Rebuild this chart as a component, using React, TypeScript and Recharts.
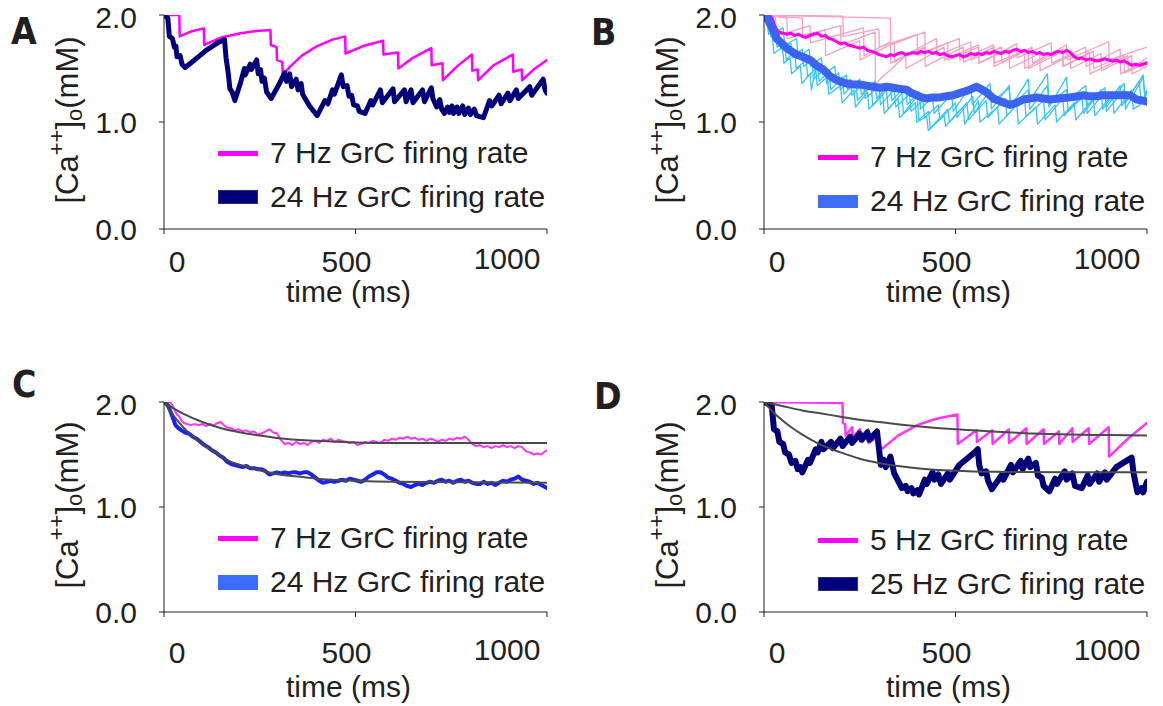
import React from 'react';
import { LineChart, Line, XAxis, YAxis, Legend } from 'recharts';

const FONT = '"Liberation Sans", Arial, Helvetica, sans-serif';
const LETTER_FONT = '"Liberation Sans Narrow", "DejaVu Sans Condensed", "Liberation Sans", sans-serif';
const INK = '#231f20';

const X_TICKS = [0, 500, 1000];
const Y_TICKS = [0, 1, 2];

// panel A: single runs
const A_7HZ = [
  [0, 2.0], [40, 2.0], [41, 1.80], [70, 1.845], [104, 1.875], [105, 1.72], [150, 1.79], [200, 1.83], [240, 1.85],
  [278, 1.86], [279, 1.72], [294, 1.70], [295, 1.58], [309, 1.56], [310, 1.44], [330, 1.52], [360, 1.62], [400, 1.71],
  [440, 1.77], [473, 1.80], [474, 1.64], [520, 1.71], [572, 1.76], [573, 1.63], [611, 1.65], [612, 1.50], [650, 1.60],
  [698, 1.69], [699, 1.53], [727, 1.55], [728, 1.39], [765, 1.52], [804, 1.63], [805, 1.48], [819, 1.49], [820, 1.39],
  [860, 1.53], [911, 1.63], [912, 1.47], [934, 1.49], [935, 1.39], [965, 1.49], [1000, 1.58],
];
const A_24HZ = [
  [0, 2.0], [10, 1.97], [14, 1.80], [22, 1.78], [27, 1.70], [31, 1.71], [34, 1.61], [42, 1.62], [47, 1.54], [55, 1.51],
  [80, 1.58], [110, 1.67], [140, 1.74], [158, 1.77], [162, 1.60], [168, 1.45], [172, 1.31], [178, 1.28], [185, 1.20],
  [200, 1.37], [210, 1.50], [212, 1.44], [225, 1.54], [228, 1.49], [242, 1.58], [246, 1.45], [252, 1.49], [256, 1.38],
  [262, 1.41], [268, 1.28], [280, 1.22], [300, 1.35], [315, 1.46], [320, 1.38], [328, 1.45], [333, 1.33], [345, 1.40],
  [350, 1.30], [358, 1.36], [362, 1.26], [380, 1.15], [400, 1.06], [420, 1.20], [428, 1.17], [440, 1.30], [445, 1.26],
  [463, 1.44], [468, 1.33], [478, 1.34], [483, 1.24], [490, 1.25], [495, 1.16], [505, 1.15], [510, 1.10], [525, 1.08],
  [540, 1.20], [545, 1.16], [565, 1.30], [570, 1.18], [598, 1.31], [602, 1.19], [628, 1.30], [632, 1.19], [645, 1.30],
  [650, 1.18], [675, 1.30], [680, 1.19], [698, 1.32], [702, 1.22], [712, 1.14], [720, 1.21], [725, 1.12], [732, 1.08],
  [740, 1.14], [745, 1.09], [752, 1.15], [756, 1.08], [765, 1.14], [770, 1.08], [780, 1.15], [785, 1.07], [795, 1.13],
  [800, 1.07], [810, 1.12], [816, 1.06], [834, 1.04], [850, 1.20], [856, 1.15], [875, 1.25], [880, 1.17], [898, 1.27],
  [903, 1.20], [920, 1.30], [925, 1.22], [955, 1.33], [960, 1.25], [990, 1.40], [995, 1.30], [1000, 1.27],
];

// panel B: individual runs and averages
const B_7HZ_RUN1 = [
  [0, 2.0], [206, 1.99], [207, 1.80], [300, 1.87], [301, 1.70], [400, 1.82], [401, 1.62], [480, 1.74], [481, 1.58],
  [560, 1.70], [561, 1.55], [640, 1.68], [641, 1.50], [720, 1.64], [721, 1.48], [800, 1.62], [801, 1.50], [880, 1.64],
  [881, 1.48], [960, 1.62], [961, 1.45], [1000, 1.52],
];
const B_7HZ_RUN2 = [
  [0, 2.0], [30, 1.98], [31, 1.80], [120, 1.90], [121, 1.74], [260, 1.88], [261, 1.62], [330, 1.75], [331, 1.55],
  [450, 1.78], [451, 1.62], [540, 1.75], [541, 1.58], [620, 1.70], [621, 1.55], [700, 1.70], [701, 1.55], [790, 1.72],
  [791, 1.58], [900, 1.75], [901, 1.58], [1000, 1.70],
];
const B_7HZ_RUN3 = [
  [0, 2.0], [60, 1.97], [61, 1.78], [160, 1.86], [161, 1.62], [250, 1.76], [251, 1.58], [340, 1.74], [341, 1.56],
  [420, 1.70], [421, 1.52], [520, 1.70], [521, 1.56], [600, 1.70], [601, 1.52], [680, 1.66], [681, 1.50], [780, 1.68],
  [781, 1.52], [850, 1.65], [851, 1.45], [950, 1.62], [951, 1.48], [1000, 1.60],
];
const B_7HZ_RUN4 = [
  [0, 2.0], [100, 1.97], [101, 1.80], [200, 1.90], [201, 1.72], [290, 1.84], [291, 1.36], [370, 1.62], [371, 1.50],
  [470, 1.70], [471, 1.58], [560, 1.72], [561, 1.55], [660, 1.73], [661, 1.60], [750, 1.74], [751, 1.55], [840, 1.70],
  [841, 1.52], [930, 1.68], [931, 1.45], [1000, 1.57],
];
const B_7HZ_RUN5 = [
  [0, 2.0], [330, 1.97], [331, 1.72], [420, 1.84], [421, 1.66], [510, 1.78], [511, 1.58], [600, 1.72], [601, 1.55],
  [690, 1.68], [691, 1.50], [780, 1.66], [781, 1.52], [860, 1.66], [861, 1.50], [940, 1.62], [941, 1.46], [1000, 1.55],
];
const B_24HZ_RUN1 = [
  [0, 2.0], [8, 1.95], [12, 1.82], [30, 1.86], [34, 1.70], [55, 1.75], [58, 1.58], [80, 1.66], [84, 1.50], [110, 1.58],
  [114, 1.42], [140, 1.52], [144, 1.38], [170, 1.47], [174, 1.30], [205, 1.42], [209, 1.26], [240, 1.38], [244, 1.20],
  [280, 1.34], [284, 1.15], [320, 1.30], [324, 1.12], [360, 1.27], [364, 1.08], [400, 1.24], [404, 1.02], [430, 1.10],
  [434, 0.94], [480, 1.12], [484, 1.00], [530, 1.18], [534, 1.02], [580, 1.20], [584, 1.04], [630, 1.22], [634, 1.06],
  [680, 1.24], [684, 1.05], [730, 1.20], [734, 1.02], [780, 1.22], [784, 1.06], [830, 1.25], [834, 1.08], [880, 1.30],
  [884, 1.12], [930, 1.34], [934, 1.15], [980, 1.38], [984, 1.20], [1000, 1.26],
];
const B_24HZ_RUN2 = [
  [0, 2.0], [15, 1.96], [18, 1.80], [40, 1.84], [44, 1.68], [70, 1.74], [74, 1.60], [100, 1.68], [104, 1.52], [125, 1.58],
  [129, 1.40], [160, 1.50], [164, 1.36], [195, 1.46], [199, 1.30], [225, 1.40], [229, 1.25], [260, 1.36], [264, 1.22],
  [300, 1.33], [304, 1.16], [340, 1.30], [344, 1.14], [380, 1.26], [384, 1.10], [415, 1.20], [419, 1.04], [455, 1.16],
  [459, 1.02], [500, 1.18], [504, 1.04], [545, 1.24], [549, 1.08], [590, 1.30], [594, 1.12], [640, 1.34], [644, 1.14],
  [690, 1.40], [694, 1.20], [740, 1.45], [744, 1.18], [790, 1.30], [794, 1.10], [840, 1.26], [844, 1.08], [890, 1.28],
  [894, 1.10], [940, 1.30], [944, 1.12], [990, 1.42], [994, 1.24], [1000, 1.28],
];
const B_24HZ_RUN3 = [
  [0, 2.0], [5, 1.92], [22, 1.78], [26, 1.64], [48, 1.70], [52, 1.55], [68, 1.60], [72, 1.45], [95, 1.52], [99, 1.36],
  [120, 1.45], [124, 1.30], [135, 1.50], [139, 1.34], [165, 1.42], [169, 1.26], [200, 1.34], [204, 1.18], [235, 1.30],
  [239, 1.14], [270, 1.28], [274, 1.12], [310, 1.26], [314, 1.08], [350, 1.22], [354, 1.04], [395, 1.18], [399, 1.00],
  [425, 1.05], [429, 0.92], [470, 1.06], [474, 0.96], [520, 1.14], [524, 0.98], [560, 1.20], [564, 1.00], [610, 1.14],
  [614, 0.98], [660, 1.16], [664, 0.98], [710, 1.14], [714, 0.98], [760, 1.16], [764, 1.00], [810, 1.18], [814, 1.02],
  [860, 1.22], [864, 1.06], [910, 1.26], [914, 1.08], [960, 1.30], [964, 1.12], [1000, 1.20],
];
const B_24HZ_RUN4 = [
  [0, 2.0], [25, 1.98], [28, 1.84], [50, 1.88], [54, 1.72], [85, 1.78], [89, 1.60], [118, 1.68], [122, 1.52], [150, 1.60],
  [154, 1.44], [185, 1.52], [189, 1.36], [215, 1.44], [219, 1.30], [250, 1.40], [254, 1.26], [290, 1.38], [294, 1.22],
  [330, 1.36], [334, 1.20], [370, 1.34], [374, 1.16], [405, 1.28], [409, 1.12], [440, 1.24], [444, 1.08], [490, 1.26],
  [494, 1.10], [540, 1.34], [544, 1.16], [590, 1.36], [594, 1.18], [640, 1.32], [644, 1.14], [690, 1.30], [694, 1.12],
  [740, 1.34], [744, 1.14], [790, 1.42], [794, 1.20], [840, 1.34], [844, 1.16], [890, 1.32], [894, 1.14], [940, 1.36],
  [944, 1.18], [990, 1.44], [994, 1.26], [1000, 1.30],
];
const B_7HZ_MEAN = [
  [0, 2.0], [15, 2.0], [22, 1.96], [28, 1.90], [34, 1.86], [40, 1.84], [50, 1.83], [60, 1.82], [70, 1.83], [80, 1.81],
  [90, 1.82], [100, 1.80], [110, 1.79], [120, 1.81], [130, 1.82], [140, 1.83], [150, 1.80], [160, 1.81], [170, 1.78],
  [180, 1.77], [190, 1.75], [200, 1.73], [210, 1.74], [220, 1.72], [230, 1.71], [240, 1.70], [250, 1.69], [260, 1.70],
  [270, 1.67], [280, 1.66], [290, 1.65], [300, 1.63], [310, 1.62], [320, 1.61], [330, 1.63], [340, 1.62], [350, 1.64],
  [360, 1.65], [370, 1.63], [380, 1.64], [390, 1.65], [400, 1.64], [410, 1.66], [420, 1.65], [430, 1.66], [440, 1.64],
  [450, 1.65], [460, 1.63], [470, 1.64], [480, 1.62], [490, 1.61], [500, 1.62], [510, 1.63], [520, 1.61], [530, 1.62],
  [540, 1.64], [550, 1.63], [560, 1.64], [570, 1.63], [580, 1.65], [590, 1.64], [600, 1.66], [610, 1.65], [620, 1.64],
  [630, 1.66], [640, 1.65], [650, 1.67], [660, 1.68], [670, 1.66], [680, 1.67], [690, 1.65], [700, 1.66], [710, 1.64],
  [720, 1.65], [730, 1.63], [740, 1.64], [750, 1.63], [760, 1.65], [770, 1.66], [780, 1.65], [790, 1.67], [800, 1.65],
  [810, 1.61], [820, 1.59], [830, 1.60], [840, 1.58], [850, 1.59], [860, 1.58], [870, 1.57], [880, 1.58], [890, 1.59],
  [900, 1.58], [910, 1.57], [920, 1.58], [930, 1.56], [940, 1.57], [950, 1.55], [960, 1.53], [970, 1.54], [980, 1.53],
  [990, 1.54], [1000, 1.55],
];
const B_24HZ_MEAN = [
  [0, 2.0], [12, 1.95], [24, 1.86], [33, 1.78], [45, 1.74], [59, 1.69], [72, 1.66], [85, 1.63], [100, 1.61], [120, 1.58],
  [137, 1.53], [155, 1.49], [172, 1.43], [185, 1.40], [198, 1.38], [215, 1.36], [233, 1.35], [250, 1.35], [268, 1.34],
  [285, 1.33], [303, 1.32], [320, 1.33], [338, 1.32], [355, 1.31], [373, 1.30], [386, 1.27], [399, 1.25], [412, 1.23],
  [425, 1.22], [442, 1.23], [459, 1.23], [476, 1.24], [494, 1.25], [510, 1.27], [530, 1.29], [555, 1.33], [565, 1.31],
  [580, 1.28], [599, 1.22], [620, 1.19], [642, 1.16], [660, 1.18], [677, 1.21], [695, 1.22], [712, 1.23], [730, 1.22],
  [747, 1.21], [770, 1.22], [799, 1.23], [820, 1.24], [834, 1.25], [850, 1.24], [868, 1.24], [885, 1.25], [903, 1.25],
  [930, 1.25], [956, 1.25], [973, 1.21], [990, 1.20], [1000, 1.19],
];

// panel C: averages with exponential fits
const C_7HZ = [
  [0, 2.0], [15, 2.0], [22, 1.97], [28, 1.92], [34, 1.88], [40, 1.86], [46, 1.82], [52, 1.80], [60, 1.79], [70, 1.78],
  [80, 1.79], [90, 1.78], [100, 1.79], [110, 1.77], [120, 1.79], [130, 1.78], [140, 1.80], [148, 1.81], [156, 1.78],
  [164, 1.76], [175, 1.75], [185, 1.73], [195, 1.74], [205, 1.72], [215, 1.73], [225, 1.71], [235, 1.72], [245, 1.69],
  [255, 1.70], [265, 1.72], [275, 1.74], [285, 1.71], [295, 1.70], [305, 1.64], [315, 1.60], [325, 1.61], [335, 1.59],
  [345, 1.62], [355, 1.60], [365, 1.61], [375, 1.59], [385, 1.62], [395, 1.63], [405, 1.61], [415, 1.64], [425, 1.63],
  [435, 1.65], [445, 1.62], [455, 1.64], [465, 1.63], [475, 1.62], [485, 1.61], [495, 1.62], [505, 1.59], [515, 1.60],
  [525, 1.62], [535, 1.61], [545, 1.63], [555, 1.62], [565, 1.61], [575, 1.64], [585, 1.63], [595, 1.65], [605, 1.64],
  [615, 1.66], [625, 1.65], [635, 1.67], [645, 1.65], [655, 1.66], [665, 1.64], [675, 1.65], [685, 1.63], [695, 1.65],
  [705, 1.64], [715, 1.62], [725, 1.64], [735, 1.63], [745, 1.65], [755, 1.64], [765, 1.66], [775, 1.65], [785, 1.67],
  [795, 1.64], [805, 1.60], [815, 1.58], [825, 1.59], [835, 1.57], [845, 1.58], [855, 1.56], [865, 1.58], [875, 1.57],
  [885, 1.59], [895, 1.57], [905, 1.58], [915, 1.56], [925, 1.58], [935, 1.57], [945, 1.53], [955, 1.52], [965, 1.50],
  [975, 1.51], [985, 1.50], [995, 1.53], [1000, 1.54],
];
const C_24HZ = [
  [0, 2.0], [10, 1.97], [18, 1.90], [24, 1.84], [30, 1.78], [38, 1.75], [46, 1.73], [55, 1.71], [65, 1.70], [75, 1.67],
  [85, 1.65], [95, 1.62], [105, 1.59], [115, 1.57], [125, 1.54], [135, 1.52], [145, 1.49], [155, 1.47], [165, 1.43],
  [175, 1.41], [185, 1.40], [195, 1.39], [205, 1.38], [215, 1.39], [225, 1.37], [235, 1.37], [245, 1.36], [255, 1.36],
  [265, 1.34], [275, 1.31], [285, 1.32], [295, 1.33], [305, 1.32], [315, 1.33], [325, 1.32], [335, 1.33], [345, 1.33],
  [355, 1.32], [365, 1.33], [375, 1.33], [385, 1.31], [395, 1.28], [405, 1.25], [415, 1.23], [425, 1.24], [435, 1.25],
  [445, 1.24], [455, 1.25], [465, 1.26], [475, 1.25], [485, 1.27], [495, 1.26], [505, 1.25], [515, 1.24], [525, 1.26],
  [535, 1.29], [545, 1.31], [555, 1.33], [565, 1.33], [575, 1.31], [585, 1.28], [595, 1.27], [605, 1.25], [615, 1.23],
  [625, 1.22], [635, 1.20], [645, 1.19], [655, 1.21], [665, 1.22], [675, 1.21], [685, 1.23], [695, 1.24], [705, 1.23],
  [715, 1.25], [725, 1.26], [735, 1.24], [745, 1.25], [755, 1.23], [765, 1.25], [775, 1.26], [785, 1.24], [795, 1.25],
  [805, 1.23], [815, 1.22], [825, 1.22], [835, 1.24], [845, 1.22], [855, 1.23], [865, 1.21], [875, 1.23], [885, 1.25],
  [895, 1.24], [905, 1.26], [915, 1.27], [925, 1.29], [935, 1.26], [945, 1.25], [955, 1.24], [965, 1.22], [975, 1.23],
  [985, 1.21], [995, 1.19], [1000, 1.18],
];
const C_FIT_7HZ = [
  [0, 2.0], [25, 1.94], [50, 1.89], [100, 1.81], [150, 1.75], [200, 1.71], [250, 1.68], [300, 1.655], [400, 1.63],
  [500, 1.615], [600, 1.61], [800, 1.61], [1000, 1.61],
];
const C_FIT_24HZ = [
  [0, 2.0], [25, 1.87], [50, 1.76], [75, 1.67], [100, 1.60], [125, 1.54], [150, 1.48], [175, 1.43], [200, 1.40],
  [250, 1.35], [300, 1.31], [350, 1.29], [400, 1.27], [500, 1.25], [600, 1.24], [800, 1.235], [1000, 1.23],
];

// panel D: single runs with fits
const D_5HZ = [
  [0, 2.0], [205, 1.99], [206, 1.80], [212, 1.79], [213, 1.68], [230, 1.76], [231, 1.66], [250, 1.74], [251, 1.64],
  [272, 1.74], [273, 1.61], [298, 1.67], [299, 1.55], [310, 1.56], [350, 1.68], [400, 1.78], [450, 1.84], [505, 1.88],
  [506, 1.60], [555, 1.73], [556, 1.62], [596, 1.73], [597, 1.60], [639, 1.74], [640, 1.61], [685, 1.75], [686, 1.60],
  [730, 1.74], [731, 1.60], [770, 1.72], [771, 1.60], [805, 1.75], [806, 1.62], [848, 1.75], [849, 1.60], [900, 1.76],
  [901, 1.48], [950, 1.65], [1000, 1.80],
];
const D_25HZ = [
  [0, 2.0], [20, 1.97], [26, 1.74], [35, 1.72], [40, 1.62], [50, 1.60], [55, 1.52], [65, 1.50], [72, 1.42], [82, 1.44],
  [88, 1.36], [95, 1.38], [100, 1.33], [115, 1.45], [120, 1.42], [135, 1.55], [140, 1.52], [150, 1.62], [155, 1.55],
  [175, 1.62], [180, 1.56], [200, 1.65], [205, 1.58], [225, 1.67], [230, 1.61], [250, 1.70], [255, 1.64], [270, 1.71],
  [275, 1.64], [295, 1.72], [300, 1.56], [305, 1.40], [312, 1.45], [318, 1.38], [330, 1.48], [335, 1.40], [340, 1.32],
  [350, 1.25], [360, 1.18], [370, 1.20], [375, 1.15], [385, 1.18], [390, 1.13], [400, 1.16], [405, 1.12], [420, 1.26],
  [425, 1.22], [440, 1.33], [445, 1.26], [455, 1.31], [462, 1.22], [480, 1.32], [485, 1.26], [510, 1.40], [550, 1.52],
  [558, 1.55], [562, 1.40], [568, 1.32], [580, 1.34], [585, 1.25], [595, 1.17], [620, 1.30], [625, 1.26], [645, 1.40],
  [650, 1.33], [670, 1.44], [675, 1.36], [690, 1.46], [695, 1.38], [710, 1.42], [715, 1.30], [725, 1.28], [730, 1.20],
  [745, 1.15], [760, 1.27], [765, 1.22], [785, 1.34], [790, 1.26], [805, 1.32], [812, 1.20], [830, 1.18], [845, 1.30],
  [850, 1.22], [870, 1.32], [875, 1.24], [890, 1.33], [895, 1.26], [920, 1.38], [960, 1.47], [965, 1.32], [975, 1.14],
  [985, 1.18], [990, 1.14], [1000, 1.24],
];
const D_FIT_5HZ = [
  [0, 2.0], [50, 1.96], [100, 1.92], [150, 1.89], [200, 1.86], [250, 1.83], [300, 1.81], [400, 1.77], [500, 1.74],
  [600, 1.72], [700, 1.70], [800, 1.69], [900, 1.685], [1000, 1.68],
];
const D_FIT_25HZ = [
  [0, 2.0], [25, 1.90], [50, 1.82], [75, 1.75], [100, 1.69], [150, 1.59], [200, 1.52], [250, 1.46], [300, 1.42],
  [400, 1.37], [500, 1.345], [600, 1.335], [800, 1.33], [1000, 1.33],
];

type Pt = { t: number; v: number };
const pts = (arr: number[][]): Pt[] => arr.map(([t, v]) => ({ t, v }));

type Series = { data: number[][]; stroke: string; width: number; curve?: 'linear' | 'monotone' };
type LegendRow = { label: string; color: string; thick: number; edge?: string };

// label nudges copied from the figure's hand-placed tick labels
const X_TICK_NUDGE: Record<number, [number, number]> = { 0: [13, 0], 500: [-9, 0], 1000: [-37, -3] };

const XTick = (props: any) => {
  const { x, y, payload, base } = props;
  const [sx, sy] = X_TICK_NUDGE[payload.value] ?? [0, 0];
  return (
    <text x={x + sx} y={y + base + sy} textAnchor="middle" fontSize={30} fontFamily={FONT} fill={INK}>
      {payload.value}
    </text>
  );
};

const YTitle = (props: any) => {
  const vb = props.viewBox || { x: 0, y: 15, width: 164, height: 214 };
  const cx = 67;
  const cy = vb.y + vb.height / 2 - 2;
  return (
    <text x={cx} y={cy} transform={`rotate(-90, ${cx}, ${cy})`} textAnchor="middle" dominantBaseline="central"
      fontSize={31} fontFamily={FONT} fill={INK}>
      [Ca<tspan dy={-11} fontSize={22}>++</tspan><tspan dy={11}>]</tspan><tspan dy={7} fontSize={22}>o</tspan>
      <tspan dy={-7}>(mM)</tspan>
    </text>
  );
};

const XTitle = (props: any) => {
  const vb = props.viewBox || { x: 164, y: 229, width: 383, height: 90 };
  return (
    <text x={vb.x + vb.width / 2 - 7} y={vb.y + props.base} textAnchor="middle" fontSize={30} fontFamily={FONT} fill={INK}>
      time (ms)
    </text>
  );
};

const legendBox = (rows: LegendRow[]) => () => (
  <div style={{ fontFamily: FONT, fontSize: 30, color: INK, lineHeight: '44px' }}>
    {rows.map((r) => (
      <div key={r.label} style={{ display: 'flex', alignItems: 'center', whiteSpace: 'nowrap', height: 44 }}>
        <span style={{
          display: 'inline-block', width: 40, height: r.thick, background: r.color, marginRight: 12, boxSizing: 'border-box',
          border: r.edge ? `1px solid ${r.edge}` : 'none',
        }} />
        {r.label}
      </div>
    ))}
  </div>
);

type PanelProps = {
  left: number; top: number; height: number; xAxisH: number; tickBase: number; titleBase: number;
  series: Series[]; legend: LegendRow[]; legendTop: number;
};

const Panel = ({ left, top, height, xAxisH, tickBase, titleBase, series, legend, legendTop }: PanelProps) => (
  <div style={{ position: 'absolute', left, top }}>
    <LineChart width={560} height={height} margin={{ top: 15, right: 13, bottom: 0, left: 0 }}>
      <XAxis type="number" dataKey="t" domain={[0, 1000]} ticks={X_TICKS} allowDataOverflow height={xAxisH}
        axisLine={{ stroke: INK }} tickLine={{ stroke: INK }} tickSize={5} tickMargin={2}
        tick={(p: any) => <XTick {...p} base={tickBase} />}
        label={{ content: (p: any) => <XTitle {...p} base={titleBase} /> }} />
      <YAxis type="number" domain={[0, 2]} ticks={Y_TICKS} allowDataOverflow width={164}
        axisLine={{ stroke: INK }} tickLine={{ stroke: INK }} tickSize={5} tickMargin={22}
        tickFormatter={(v: number) => v.toFixed(1)}
        tick={{ fill: INK, fontSize: 30, fontFamily: FONT }}
        label={{ content: (p: any) => <YTitle {...p} /> }} />
      {series.map((s, i) => (
        <Line key={i} data={pts(s.data)} dataKey="v" type={s.curve ?? 'linear'} stroke={s.stroke} strokeWidth={s.width}
          strokeLinejoin="round" strokeLinecap="round" dot={false} activeDot={false} legendType="none"
          isAnimationActive={false} />
      ))}
      <Legend layout="vertical" align="center" verticalAlign="middle" content={legendBox(legend)}
        wrapperStyle={{ left: 218, top: legendTop, width: 340, height: 88 }} />
    </LineChart>
  </div>
);

const MAGENTA = '#ff00ff';
const NAVY = '#00007a';
const PINK = '#f5a0c4';
const CYAN = '#36c4f2';
const GRAY = '#4a4a4a';

const letterStyle = (left: number, top: number): React.CSSProperties => ({
  position: 'absolute', left, top, fontFamily: LETTER_FONT, fontWeight: 'bold', fontSize: 37, lineHeight: '37px', color: INK,
});

export default function App() {
  return (
    <div style={{ position: 'absolute', left: 0, top: 0, width: 1163, height: 706, overflow: 'hidden', background: '#fff', fontFamily: FONT }}>
      <Panel left={0} top={0} height={320} xAxisH={91} tickBase={36} titleBase={73} legendTop={131}
        series={[
          { data: A_7HZ, stroke: MAGENTA, width: 2.5 },
          { data: A_24HZ, stroke: NAVY, width: 5 },
        ]}
        legend={[
          { label: '7 Hz GrC firing rate', color: MAGENTA, thick: 5 },
          { label: '24 Hz GrC firing rate', color: NAVY, thick: 14, edge: '#2a2a8a' },
        ]} />
      <Panel left={600} top={0} height={320} xAxisH={91} tickBase={36} titleBase={73} legendTop={135}
        series={[
          { data: B_7HZ_RUN1, stroke: PINK, width: 1.3 },
          { data: B_7HZ_RUN2, stroke: PINK, width: 1.3 },
          { data: B_7HZ_RUN3, stroke: PINK, width: 1.3 },
          { data: B_7HZ_RUN4, stroke: PINK, width: 1.3 },
          { data: B_7HZ_RUN5, stroke: PINK, width: 1.3 },
          { data: B_24HZ_RUN1, stroke: CYAN, width: 1.3 },
          { data: B_24HZ_RUN2, stroke: CYAN, width: 1.3 },
          { data: B_24HZ_RUN3, stroke: CYAN, width: 1.3 },
          { data: B_24HZ_RUN4, stroke: CYAN, width: 1.3 },
          { data: B_7HZ_MEAN, stroke: '#ff00e6', width: 3 },
          { data: B_24HZ_MEAN, stroke: '#3b63f0', width: 8 },
        ]}
        legend={[
          { label: '7 Hz GrC firing rate', color: '#ff00e6', thick: 5 },
          { label: '24 Hz GrC firing rate', color: '#3d6cf5', thick: 13 },
        ]} />
      <Panel left={0} top={387} height={319} xAxisH={94} tickBase={44} titleBase={85} legendTop={129}
        series={[
          { data: C_7HZ, stroke: '#ff33ff', width: 2 },
          { data: C_24HZ, stroke: '#1a22f0', width: 4 },
          { data: C_FIT_7HZ, stroke: GRAY, width: 2, curve: 'monotone' },
          { data: C_FIT_24HZ, stroke: GRAY, width: 2, curve: 'monotone' },
        ]}
        legend={[
          { label: '7 Hz GrC firing rate', color: MAGENTA, thick: 5 },
          { label: '24 Hz GrC firing rate', color: '#3a6cff', thick: 15 },
        ]} />
      <Panel left={600} top={387} height={319} xAxisH={94} tickBase={44} titleBase={85} legendTop={131}
        series={[
          { data: D_5HZ, stroke: '#ff33ff', width: 2.5 },
          { data: D_25HZ, stroke: NAVY, width: 6 },
          { data: D_FIT_5HZ, stroke: GRAY, width: 2, curve: 'monotone' },
          { data: D_FIT_25HZ, stroke: GRAY, width: 2, curve: 'monotone' },
        ]}
        legend={[
          { label: '5 Hz GrC firing rate', color: MAGENTA, thick: 5 },
          { label: '25 Hz GrC firing rate', color: NAVY, thick: 14, edge: '#2a2a8a' },
        ]} />
      <div style={letterStyle(11, 13)}>A</div>
      <div style={letterStyle(591, 14)}>B</div>
      <div style={letterStyle(12, 366)}>C</div>
      <div style={letterStyle(594, 378)}>D</div>
    </div>
  );
}
